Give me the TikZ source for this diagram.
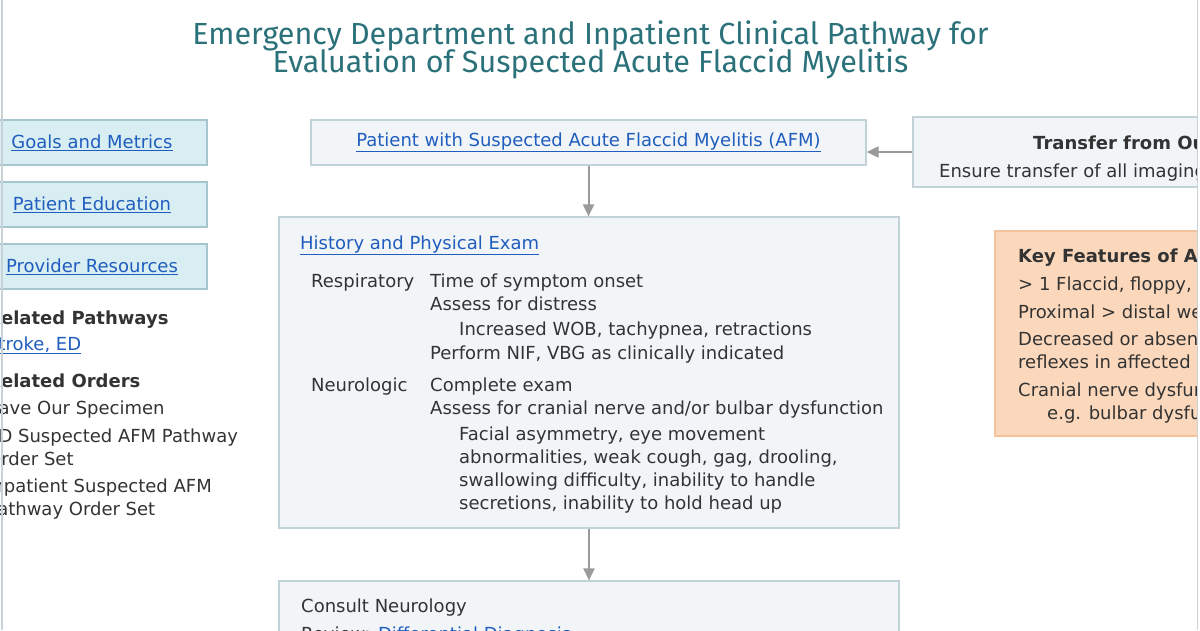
\documentclass[tikz,border=0pt]{standalone}
\usepackage{fontspec}
\setmainfont{DejaVu Sans}
\newfontfamily\titlefont{Fira Sans}
\usetikzlibrary{positioning, arrows.meta}

\definecolor{titleteal}{HTML}{2B717A}
\definecolor{linkblue}{HTML}{1F5DBE}
\definecolor{bodygray}{HTML}{333333}
\definecolor{boxfill}{HTML}{F2F5F7}
\definecolor{boxline}{HTML}{C2D2D9}
\definecolor{navfill}{HTML}{D8EEF3}
\definecolor{navline}{HTML}{A6C5CE}
\definecolor{keyfill}{HTML}{FBD8BC}
\definecolor{keyline}{HTML}{F2C29C}
\definecolor{arrowgray}{HTML}{9A9A9A}
\definecolor{pageline}{HTML}{C9D3D7}

\newcommand{\lnk}[1]{\textcolor{linkblue}{\underline{#1}}}

\begin{document}
\begin{tikzpicture}[x=1pt, y=-1pt, >={Triangle[width=11pt,length=12pt]},
    bodyfont/.style={font=\fontsize{18}{21}\selectfont, text=bodygray},
    boldfont/.style={font=\bfseries\fontsize{18}{21}\selectfont},
    titletext/.style={font=\titlefont\fontsize{30.5}{34}\selectfont, text=titleteal},
    stepbox/.style={draw=boxline, fill=boxfill, line width=1.2pt, bodyfont},
    navbox/.style={draw=navline, fill=navfill, line width=1.6pt, bodyfont,
      minimum width=230pt, minimum height=45pt},
    keybox/.style={draw=keyline, fill=keyfill, line width=1.2pt},
    txt/.style={anchor=base west, inner sep=0pt, bodyfont},
    flow/.style={->, draw=arrowgray, color=arrowgray, line width=2pt}]
  \useasboundingbox (0,0) rectangle (1200,630);

  \begin{scope}
  \clip (0,0) rectangle (1197,630);

  % Title
  \node[titletext] (title1) at (590.5,36) {Emergency Department and Inpatient Clinical Pathway for};
  \node[titletext] (title2) at (590.5,64) {Evaluation of Suspected Acute Flaccid Myelitis};

  % Side links
  \node[navbox] (goals) at (92,142.5) {\lnk{Goals and Metrics}};
  \node[navbox] (educ) at (92,204.5) {\lnk{Patient Education}};
  \node[navbox] (prov) at (92,266.5) {\lnk{Provider Resources}};

  \node[txt, boldfont] (relpath) at (-13,324) {Related Pathways};
  \node[txt] (stroke) at (-13,350) {\lnk{Stroke, ED}};
  \node[txt, boldfont] (relord) at (-13,387) {Related Orders};
  \node[txt] (ord1) at (-13,414) {Save Our Specimen};
  \node[txt] (ord2) at (-13,442) {ED Suspected AFM Pathway};
  \node[txt] (ord2b) at (-13,465) {Order Set};
  \node[txt] (ord3) at (-13,492) {Inpatient Suspected AFM};
  \node[txt] (ord3b) at (-13,515) {Pathway Order Set};

  % Boxes
  \node[stepbox, minimum width=555pt, minimum height=45pt] (patient) at (588.5,142.5)
    {\lnk{Patient with Suspected Acute Flaccid Myelitis (AFM)}};
  \node[stepbox, minimum width=620pt, minimum height=311pt] (hpe) at (589,372.5) {};
  \node[stepbox, minimum width=620pt, minimum height=119pt] (consult) at (589,640.5) {};
  \node[stepbox, minimum width=347pt, minimum height=70pt] (transfer) at (1086.5,152) {};
  \node[keybox, minimum width=265pt, minimum height=205pt] (key) at (1127.5,333.5) {};

  % History and physical exam
  \node[txt] (hpehead) at (300,249) {\lnk{History and Physical Exam}};
  \node[txt] (resp) at (311,287) {Respiratory};
  \node[txt] (resp1) at (430,287) {Time of symptom onset};
  \node[txt] (resp2) at (430,310) {Assess for distress};
  \node[txt] (resp3) at (459,335) {Increased WOB, tachypnea, retractions};
  \node[txt] (resp4) at (430,359) {Perform NIF, VBG as clinically indicated};
  \node[txt] (neuro) at (311,391) {Neurologic};
  \node[txt] (neuro1) at (430,391) {Complete exam};
  \node[txt] (neuro2) at (430,414) {Assess for cranial nerve and/or bulbar dysfunction};
  \node[txt] (neuro3) at (459,440) {Facial asymmetry, eye movement};
  \node[txt] (neuro4) at (459,463) {abnormalities, weak cough, gag, drooling,};
  \node[txt] (neuro5) at (459,486) {swallowing difficulty, inability to handle};
  \node[txt] (neuro6) at (459,509) {secretions, inability to hold head up};

  % Consult
  \node[txt] (cons1) at (301,612) {Consult Neurology};
  \node[txt] (cons2) at (301,640) {Review: \lnk{Differential Diagnosis}};

  % Transfer
  \node[txt, boldfont] (trhead) at (1033,149) {Transfer from Outside};
  \node[txt] (tr1) at (939,177) {Ensure transfer of all imaging and};

  % Key features
  \node[txt, boldfont] (keyhead) at (1018,262) {Key Features of AFM};
  \node[txt] (key1) at (1018,290) {> 1 Flaccid, floppy, limb};
  \node[txt] (key2) at (1018,318) {Proximal > distal weakness};
  \node[txt] (key3) at (1018,345) {Decreased or absent};
  \node[txt] (key3b) at (1018,368) {reflexes in affected extremity};
  \node[txt] (key4) at (1018,396) {Cranial nerve dysfunction};
  \node[txt] (key4b) at (1047,419) {e.g. bulbar dysfunction};

  % Edges
  \draw[flow] (patient.south) -- (patient.south |- hpe.north);
  \draw[flow] (hpe.south) -- (consult.north);
  \draw[flow] (transfer.west) -- (transfer.west -| patient.east);
  \end{scope}

  % Page edges
  \draw[pageline, line width=1.5pt] (2,0) -- (2,630);
  \draw[pageline, line width=1.5pt] (1197.5,0) -- (1197.5,630);
\end{tikzpicture}
\end{document}
